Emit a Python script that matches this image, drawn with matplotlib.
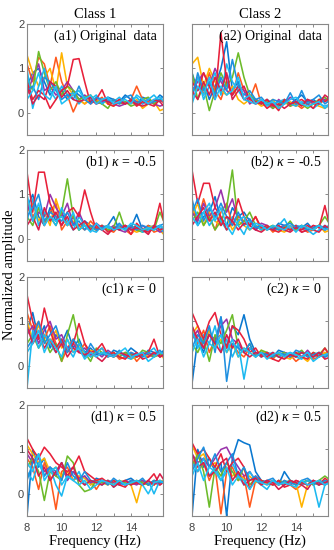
import numpy as np
import matplotlib.pyplot as plt

plt.rcParams['mathtext.fontset'] = 'custom'
plt.rcParams['mathtext.rm'] = 'Liberation Serif'
plt.rcParams['mathtext.it'] = 'Liberation Serif:italic'

# frequency axis (Hz), one point every 1/3 Hz
freq = [8.0, 8.33, 8.67, 9.0, 9.33, 9.67, 10.0, 10.33, 10.67, 11.0, 11.33, 11.67,
        12.0, 12.33, 12.67, 13.0, 13.33, 13.67, 14.0, 14.33, 14.67, 15.0, 15.33, 15.67, 16.0]

colors = ['#0A78D0', '#FF5A1E', '#FFB300', '#9933AA', '#6CBB2A',
          '#1CB8F0', '#E8203A', '#1E8FE0', '#D81E4A', '#20C0F5']

# class 1 / class 2 spectra
a1 = [
    [0.6, 0.9, 1.0, 0.7, 0.4, 0.6, 0.5, 0.3, 0.5, 0.4, 0.3, 0.25, 0.3, 0.2, 0.35, 0.3, 0.25, 0.4, 0.3, 0.2, 0.35, 0.3, 0.25, 0.4, 0.3],
    [1.1, 0.7, 1.25, 1.1, 0.6, 1.25, 0.7, 0.4, 0.02, 0.3, 0.2, 0.3, 0.25, 0.35, 0.2, 0.3, 0.25, 0.2, 0.3, 0.6, 0.3, 0.25, 0.2, 0.3, 0.2],
    [1.3, 0.9, 0.6, 0.8, 1.0, 0.5, 1.35, 0.6, 0.4, 0.3, 0.2, 0.35, 0.25, 0.3, 0.2, 0.15, 0.3, 0.25, 0.2, 0.3, 0.1, 0.2, 0.25, 0.05, 0.1],
    [0.4, 0.8, 1.1, 0.5, 0.6, 0.4, 0.5, 0.7, 0.5, 0.3, 0.4, 0.3, 0.2, 0.25, 0.3, 0.2, 0.15, 0.2, 0.3, 0.25, 0.2, 0.3, 0.2, 0.15, 0.2],
    [0.8, 0.5, 1.38, 0.9, 0.5, 0.7, 0.4, 0.6, 0.5, 0.3, 0.35, 0.4, 0.25, 0.2, 0.1, 0.3, 0.2, 0.25, 0.15, 0.2, 0.3, 0.35, 0.2, 0.3, 0.25],
    [1.0, 0.1, 0.6, 1.0, 0.5, 0.3, 0.6, 0.4, 0.45, 0.2, 0.35, 0.3, 0.4, 0.2, 0.3, 0.25, 0.35, 0.2, 0.3, 0.35, 0.2, 0.3, 0.4, 0.25, 0.3],
    [0.7, 0.3, 0.5, 0.4, 0.1, 0.3, 0.5, 0.6, 1.2, 1.22, 0.7, 0.2, 0.3, 0.52, 0.2, 0.15, 0.25, 0.2, 0.3, 0.15, 0.25, 0.2, 0.15, 0.3, 0.2],
    [0.5, 0.6, 0.3, 0.8, 0.7, 0.5, 0.3, 0.4, 0.3, 0.6, 0.3, 0.2, 0.35, 0.3, 0.25, 0.3, 0.2, 0.35, 0.4, 0.2, 0.3, 0.2, 0.25, 0.3, 0.4],
    [0.6, 0.2, 0.4, 0.3, 0.7, 0.6, 0.35, 0.5, 0.3, 0.25, 0.3, 0.35, 0.2, 0.3, 0.25, 0.2, 0.3, 0.2, 0.25, 0.2, 0.15, 0.2, 0.3, 0.25, 0.1],
    [0.3, 0.5, 0.9, 0.4, 0.3, 0.6, 0.2, 0.3, 0.4, 0.5, 0.3, 0.4, 0.2, 0.3, 0.35, 0.2, 0.25, 0.3, 0.2, 0.4, 0.3, 0.2, 0.3, 0.35, 0.2],
]
a2 = [
    [0.9, 0.5, 0.7, 0.3, 0.6, 1.0, 1.6, 0.5, 0.7, 0.3, 0.4, 0.25, 0.2, 0.3, 0.2, 0.15, 0.25, 0.2, 0.3, 0.4, 0.25, 0.3, 0.2, 0.3, 0.35],
    [0.6, 0.8, 0.4, 0.9, 0.5, 0.3, 0.7, 0.4, 0.9, 0.5, 0.3, 0.65, 0.2, 0.3, 0.1, 0.2, 0.25, 0.15, 0.2, 0.1, 0.2, 0.25, 0.2, 0.3, 0.2],
    [1.1, 1.25, 0.6, 1.0, 0.7, 0.5, 0.4, 0.6, 0.3, 0.2, 0.3, 0.25, 0.15, 0.2, 0.3, 0.1, 0.2, 0.25, 0.15, 0.2, 0.3, 0.2, 0.15, 0.1, 0.2],
    [0.5, 0.7, 0.9, 0.6, 1.0, 0.7, 0.5, 0.4, 0.6, 0.5, 0.2, 0.3, 0.25, 0.2, 0.1, 0.3, 0.2, 0.35, 0.25, 0.2, 0.3, 0.2, 0.25, 0.3, 0.35],
    [0.9, 0.3, 0.6, 0.05, 0.5, 0.9, 0.6, 0.8, 1.35, 0.8, 0.4, 0.3, 0.2, 0.25, 0.1, 0.2, 0.3, 0.15, 0.25, 0.2, 0.1, 0.2, 0.3, 0.35, 0.2],
    [0.4, 0.8, 0.3, 0.6, 0.9, 0.4, 1.1, 0.7, 0.5, 0.3, 0.25, 0.2, 0.3, 0.15, 0.2, 0.25, 0.3, 0.2, 0.15, 0.25, 0.2, 0.1, 0.2, 0.15, 0.2],
    [0.7, 0.5, 0.9, 0.6, 0.3, 1.8, 0.7, 0.4, 0.6, 0.3, 0.35, 0.2, 0.25, 0.1, 0.2, 0.05, 0.3, 0.2, 0.25, 0.3, 0.2, 0.1, 0.3, 0.25, 0.35],
    [0.3, 0.9, 0.5, 0.7, 0.4, 0.8, 0.5, 1.2, 0.6, 0.4, 0.5, 0.3, 0.35, 0.2, 0.3, 0.25, 0.2, 0.45, 0.2, 0.5, 0.2, 0.3, 0.4, 0.2, 0.3],
    [0.5, 0.3, 0.7, 0.4, 0.8, 0.5, 0.9, 0.3, 0.5, 0.6, 0.3, 0.25, 0.2, 0.3, 0.15, 0.2, 0.1, 0.2, 0.25, 0.15, 0.3, 0.25, 0.2, 0.4, 0.3],
    [0.2, 0.6, 0.4, 0.8, 0.3, 0.6, 0.4, 0.5, 0.8, 0.3, 0.4, 0.2, 0.3, 0.2, 0.25, 0.1, 0.2, 0.3, 0.35, 0.2, 0.15, 0.2, 0.25, 0.1, 0.2],
]
b1 = [
    [0.7, 1.0, 0.5, 0.3, 0.7, 0.4, 0.6, 0.3, 0.5, 0.2, 0.4, 0.3, 0.25, 0.2, 0.3, 0.5, 0.2, 0.3, 0.25, 0.55, 0.2, 0.3, 0.25, 0.3, 0.2],
    [0.9, 0.5, 0.7, 0.3, 0.6, 0.8, 0.2, 0.4, 0.5, 0.3, 0.2, 0.4, 0.25, 0.3, 0.2, 0.15, 0.3, 0.2, 0.1, 0.25, 0.2, 0.3, 0.15, 0.2, 0.3],
    [0.6, 0.8, 0.4, 0.6, 0.3, 0.9, 0.5, 0.3, 0.4, 0.2, 0.35, 0.3, 0.2, 0.25, 0.3, 0.2, 0.25, 0.3, 0.2, 0.15, 0.2, 0.25, 0.3, 0.2, 0.05],
    [0.8, 0.4, 0.6, 0.5, 1.0, 0.7, 0.5, 0.8, 0.3, 0.6, 0.3, 0.2, 0.35, 0.25, 0.2, 0.3, 0.2, 0.15, 0.25, 0.2, 0.3, 0.2, 0.25, 0.15, 0.2],
    [0.5, 0.3, 0.7, 0.4, 0.5, 0.3, 0.6, 1.35, 0.5, 0.2, 0.3, 0.25, 0.2, 0.3, 0.2, 0.25, 0.6, 0.2, 0.3, 0.2, 0.15, 0.25, 0.2, 0.6, 0.3],
    [0.4, 0.9, 0.3, 0.6, 0.5, 0.3, 0.7, 0.4, 0.2, 0.5, 0.3, 0.2, 0.15, 0.3, 0.25, 0.2, 0.3, 0.25, 0.2, 0.3, 0.15, 0.2, 0.3, 0.25, 0.1],
    [1.5, 0.6, 1.5, 1.5, 0.8, 0.5, 0.3, 0.6, 0.7, 0.5, 1.1, 0.6, 0.2, 0.3, 0.15, 0.2, 0.25, 0.3, 0.1, 0.35, 0.2, 0.15, 0.25, 0.8, 0.2],
    [0.5, 0.7, 1.0, 0.4, 0.6, 0.5, 0.4, 0.6, 0.3, 0.4, 0.2, 0.3, 0.2, 0.25, 0.3, 0.2, 0.35, 0.2, 0.3, 0.2, 0.3, 0.25, 0.2, 0.3, 0.35],
    [0.3, 0.5, 0.2, 0.7, 0.4, 0.6, 0.3, 0.5, 0.2, 0.3, 0.4, 0.2, 0.3, 0.2, 0.1, 0.25, 0.2, 0.3, 0.2, 0.25, 0.2, 0.1, 0.3, 0.2, 0.25],
    [1.0, 0.4, 0.8, 0.3, 0.5, 0.4, 0.5, 0.3, 0.6, 0.2, 0.3, 0.15, 0.35, 0.2, 0.3, 0.2, 0.25, 0.2, 0.35, 0.3, 0.2, 0.25, 0.2, 0.3, 0.2],
]
b2 = [
    [0.9, 0.3, 0.5, 0.6, 0.95, 0.4, 0.3, 0.7, 0.5, 0.6, 0.4, 0.2, 0.3, 0.25, 0.2, 0.35, 0.3, 0.2, 0.3, 0.25, 0.35, 0.2, 0.3, 0.25, 0.3],
    [0.7, 0.4, 0.9, 0.5, 0.2, 0.6, 0.8, 0.3, 0.5, 0.4, 0.3, 0.5, 0.2, 0.3, 0.15, 0.25, 0.2, 0.3, 0.2, 0.25, 0.15, 0.2, 0.3, 0.2, 0.25],
    [0.5, 0.8, 0.3, 0.6, 0.4, 0.3, 0.5, 0.2, 0.4, 0.3, 0.2, 0.3, 0.25, 0.2, 0.3, 0.2, 0.15, 0.25, 0.2, 0.3, 0.2, 0.25, 0.3, 0.15, 0.2],
    [0.6, 0.4, 0.8, 0.5, 0.7, 1.1, 0.6, 0.9, 0.4, 0.5, 0.3, 0.2, 0.35, 0.3, 0.2, 0.25, 0.3, 0.2, 0.25, 0.15, 0.2, 0.3, 0.25, 0.2, 0.3],
    [0.4, 0.6, 0.3, 0.5, 0.2, 0.4, 0.7, 1.55, 0.3, 0.4, 0.6, 0.3, 0.2, 0.25, 0.3, 0.2, 0.25, 0.4, 0.2, 0.3, 0.25, 0.2, 0.3, 0.5, 0.3],
    [0.8, 0.5, 0.6, 0.3, 0.5, 0.4, 0.2, 0.5, 0.3, 0.1, 0.4, 0.3, 0.2, 0.3, 0.2, 0.3, 0.45, 0.2, 0.3, 0.25, 0.2, 0.1, 0.2, 0.3, 0.2],
    [1.55, 0.8, 1.25, 1.25, 0.7, 0.5, 0.2, 0.4, 0.9, 0.5, 0.3, 0.5, 0.25, 0.3, 0.2, 0.15, 0.25, 0.2, 0.3, 0.15, 0.2, 0.3, 0.25, 0.75, 0.2],
    [0.6, 0.9, 0.4, 0.7, 0.5, 0.8, 0.5, 0.3, 0.6, 0.3, 0.45, 0.25, 0.3, 0.2, 0.25, 0.2, 0.3, 0.35, 0.25, 0.3, 0.2, 0.25, 0.3, 0.2, 0.35],
    [0.3, 0.5, 0.7, 0.4, 0.6, 0.3, 0.5, 0.4, 0.2, 0.35, 0.3, 0.2, 0.15, 0.25, 0.2, 0.3, 0.2, 0.15, 0.25, 0.2, 0.3, 0.2, 0.15, 0.3, 0.2],
    [0.5, 0.3, 0.6, 0.8, 0.4, 0.7, 0.3, 0.1, 0.4, 0.5, 0.2, 0.35, 0.3, 0.2, 0.3, 0.25, 0.2, 0.3, 0.15, 0.3, 0.25, 0.2, 0.3, 0.2, 0.25],
]
c1 = [
    [0.8, 1.2, 0.6, 0.9, 0.4, 0.7, 0.5, 0.8, 0.4, 0.6, 0.3, 0.4, 0.25, 0.3, 0.2, 0.35, 0.3, 0.25, 0.4, 0.3, 0.2, 0.35, 0.3, 0.25, 0.4],
    [1.2, 0.8, 1.0, 0.6, 0.9, 0.5, 0.1, 0.4, 0.6, 0.3, 0.5, 0.2, 0.3, 0.4, 0.2, 0.3, 0.15, 0.2, 0.3, 0.1, 0.25, 0.2, 0.3, 0.25, 0.2],
    [1.0, 0.6, 0.9, 0.7, 0.5, 0.8, 0.4, 0.6, 0.3, 0.5, 0.2, 0.35, 0.3, 0.25, 0.3, 0.2, 0.25, 0.3, 0.15, 0.2, 0.3, 0.2, 0.25, 0.3, 0.1],
    [0.7, 0.9, 0.5, 0.8, 1.0, 0.6, 0.7, 0.4, 0.5, 0.3, 0.4, 0.25, 0.3, 0.2, 0.35, 0.25, 0.2, 0.3, 0.25, 0.2, 0.3, 0.25, 0.2, 0.3, 0.25],
    [0.5, 0.7, 0.4, 0.6, 0.3, 0.5, 0.1, 0.7, 1.15, 0.5, 0.3, 0.1, 0.4, 0.3, 0.25, 0.3, 0.2, 0.3, 0.25, 0.2, 0.35, 0.3, 0.2, 0.25, 0.3],
    [-0.5, 0.8, 0.4, 0.7, 0.5, 0.3, 0.6, 0.4, 0.2, 0.5, 0.3, 0.2, 0.3, 0.4, 0.2, 0.25, 0.3, 0.2, 0.15, 0.25, 0.2, 0.3, 0.4, 0.2, 0.3],
    [1.6, 1.0, 0.6, 1.3, 0.8, 0.4, 0.6, 0.3, 0.5, 0.95, 0.5, 0.3, 0.35, 0.5, 0.25, 0.3, 0.2, 0.15, 0.3, 0.2, 0.25, 0.3, 0.6, 0.2, 0.25],
    [0.4, 0.6, 1.0, 0.5, 0.7, 0.9, 0.5, 0.3, 0.6, 0.4, 0.2, 0.5, 0.3, 0.25, 0.3, 0.2, 0.35, 0.2, 0.3, 0.25, 0.2, 0.3, 0.25, 0.35, 0.2],
    [0.9, 0.5, 0.7, 0.4, 0.6, 0.3, 0.5, 0.2, 0.4, 0.3, 0.25, 0.3, 0.2, 0.1, 0.25, 0.2, 0.3, 0.25, 0.2, 0.3, 0.15, 0.2, 0.3, 0.2, 0.3],
    [0.3, 0.5, 0.8, 0.3, 0.6, 0.4, 0.2, 0.6, 0.3, 0.4, 0.15, 0.3, 0.2, 0.3, 0.25, 0.2, 0.3, 0.4, 0.2, 0.25, 0.3, 0.1, 0.2, 0.3, 0.25],
]
c2 = [
    [-0.4, 0.6, 0.3, 0.8, 0.5, 1.1, 0.4, 0.9, 0.7, 1.15, 0.6, 0.3, 0.25, 0.3, 0.2, 0.35, 0.3, 0.25, 0.2, 0.3, 0.25, 0.2, 0.3, 0.25, 0.35],
    [0.9, 0.5, 0.8, 0.3, 0.6, 0.7, 0.4, 0.5, 0.3, 0.2, 0.4, 0.25, 0.3, 0.2, 0.15, 0.3, 0.2, 0.25, 0.1, 0.2, 0.3, 0.15, 0.2, 0.3, 0.2],
    [0.7, 0.9, 0.5, 0.8, 0.4, 0.6, 0.3, 0.5, 0.2, 0.4, 0.3, 0.2, 0.35, 0.25, 0.2, 0.3, 0.2, 0.15, 0.3, 0.2, 0.1, 0.25, 0.2, 0.3, 0.25],
    [0.6, 0.8, 0.4, 0.7, 0.6, 0.9, 1.05, 0.6, 0.5, 0.3, 0.4, 0.3, 0.2, 0.3, 0.25, 0.2, 0.3, 0.25, 0.3, 0.2, 0.35, 0.2, 0.25, 0.2, 0.3],
    [0.5, 0.3, 0.6, 0.1, 0.7, 0.5, 0.8, 1.15, 0.4, 0.3, 0.5, 0.2, 0.35, 0.3, 0.2, 0.25, 0.3, 0.2, 0.25, 0.35, 0.2, 0.3, 0.25, 0.4, 0.2],
    [0.8, 0.4, 0.7, 0.5, 0.9, 0.3, 0.6, 0.2, 0.5, -0.3, 0.4, 0.3, 0.2, 0.25, 0.3, 0.2, 0.25, 0.3, 0.2, 0.15, 0.3, 0.2, 0.25, 0.2, 0.3],
    [1.2, 0.9, 0.6, 1.0, 1.2, 0.7, 0.4, 0.9, 0.8, 0.6, 0.3, 0.4, 0.2, 0.3, 0.15, 0.1, 0.25, 0.2, 0.3, 0.2, 0.15, 0.3, 0.2, 0.4, 0.2],
    [0.4, 0.7, 0.5, 0.9, 0.3, 1.1, -0.35, 0.5, 0.4, 0.3, 0.5, 0.2, 0.3, 0.25, 0.2, 0.3, 0.25, 0.2, 0.35, 0.3, 0.2, 0.25, 0.3, 0.2, 0.25],
    [0.9, 0.6, 0.4, 0.7, 0.5, 0.3, 0.7, 0.4, 0.6, 0.3, 0.2, 0.3, 0.25, 0.2, 0.3, 0.2, 0.15, 0.25, 0.2, 0.3, 0.25, 0.2, 0.3, 0.15, 0.2],
    [0.3, 0.6, 0.2, 0.5, 0.4, 0.7, 0.3, 0.6, 0.2, 0.4, 0.3, 0.2, 0.3, 0.15, 0.25, 0.3, 0.2, 0.3, 0.25, 0.2, 0.3, 0.1, 0.2, 0.25, 0.3],
]
d1 = [
    [-0.5, 1.0, 0.6, 0.8, 0.3, 0.5, 0.7, 0.4, 0.5, 0.3, 0.4, 0.2, 0.35, 0.3, 0.25, 0.3, 0.2, 0.3, 0.35, 0.25, 0.3, 0.2, 0.3, 0.25, 0.3],
    [0.8, 0.6, 0.1, 0.7, 0.4, -0.35, 0.5, 0.6, 0.3, 0.4, 0.2, 0.3, 0.1, 0.3, 0.25, 0.2, 0.3, 0.2, 0.25, 0.3, 0.2, 0.25, 0.2, 0.3, 0.25],
    [1.1, 0.9, 0.7, 0.8, 0.5, 0.6, 0.4, 0.5, 0.3, 0.4, 0.35, 0.2, 0.3, 0.25, 0.2, 0.3, 0.25, 0.3, 0.2, -0.2, 0.3, 0.25, 0.2, 0.3, 0.25],
    [0.9, 0.7, 0.8, 0.5, 0.6, 0.4, 0.7, 0.3, 0.5, 0.35, 0.4, 0.25, 0.3, 0.2, 0.3, 0.25, 0.2, 0.3, 0.25, 0.2, 0.3, 0.2, 0.25, 0.2, 0.3],
    [0.6, 0.8, 0.5, -0.15, 0.5, 0.4, 0.3, 0.85, 0.7, 0.2, 0.05, 0.1, 0.3, 0.25, 0.3, 0.2, 0.3, 0.25, 0.2, 0.3, 0.25, 0.2, 0.3, 0.25, 0.3],
    [0.5, 0.3, 0.7, 0.4, 0.6, 0.2, -0.05, 0.4, 0.3, 0.5, 0.2, 0.3, 0.25, 0.2, 0.3, 0.15, 0.25, 0.2, 0.3, 0.25, 0.2, 0.3, 0.0, 0.3, 0.2],
    [1.25, 1.0, 0.8, 1.05, 0.9, 0.7, 0.6, 0.5, 0.6, 0.85, 0.5, 0.4, 0.3, 0.35, 0.25, 0.3, 0.2, 0.15, 0.3, 0.25, 0.2, 0.3, 0.45, 0.2, 0.3],
    [0.3, 0.7, 0.9, 0.4, 0.6, 0.5, 0.3, 0.7, 0.4, 0.3, 0.5, 0.3, 0.25, 0.3, 0.2, 0.35, 0.25, 0.2, 0.3, 0.25, 0.35, 0.2, 0.3, 0.25, 0.3],
    [1.0, 0.8, 0.4, 0.6, 0.3, 0.5, 0.7, 0.4, 0.6, 0.3, 0.2, 0.3, 0.25, 0.2, 0.3, 0.15, 0.25, 0.3, 0.2, 0.25, 0.2, 0.3, 0.2, 0.45, 0.25],
    [0.7, 0.5, 0.9, 0.3, 0.5, 0.6, 0.2, 0.4, 0.3, 0.2, 0.3, 0.1, 0.2, 0.3, 0.25, 0.2, 0.3, 0.2, 0.25, 0.3, 0.2, 0.0, 0.25, 0.3, 0.2],
]
d2 = [
    [-0.5, 1.0, 0.6, 0.8, 0.5, 0.7, -0.5, 0.8, 1.22, 1.15, 1.1, 0.5, 0.3, 0.25, 0.3, 0.2, 0.5, 0.3, 0.2, 0.25, 0.3, 0.2, 0.3, 0.25, 0.3],
    [0.8, 0.5, 0.7, 0.3, 0.6, -0.45, 0.5, 0.6, 0.3, 0.4, -0.3, 0.3, 0.2, 0.3, 0.25, 0.2, 0.3, 0.2, 0.1, 0.2, 0.3, 0.25, 0.2, 0.3, 0.25],
    [1.1, 0.8, 0.9, 0.6, 0.7, 0.5, 0.6, 0.4, 0.5, 0.3, 0.4, 0.25, 0.3, 0.2, 0.3, 0.25, 0.2, 0.3, 0.25, -0.3, 0.2, 0.3, 0.25, 0.2, 0.3],
    [0.9, 0.7, 0.8, 0.6, 0.8, 1.0, 1.05, 0.8, 0.6, 0.4, 0.5, 0.3, 0.25, 0.3, 0.2, 0.3, 0.25, 0.2, 0.3, 0.25, 0.2, 0.3, 0.25, 0.2, 0.3],
    [0.6, 0.9, 0.5, -0.3, 0.6, 0.4, 0.7, 0.5, 0.3, 0.6, 0.2, 0.35, 0.3, 0.25, 0.2, 0.3, 0.25, 0.3, 0.2, 0.25, 0.3, 0.2, 0.3, 0.4, 0.3],
    [0.7, 0.5, 0.8, 0.4, 0.6, 0.3, 0.5, 0.7, 0.4, 0.2, 0.5, 0.3, 0.2, 0.1, 0.3, 0.25, 0.2, 0.3, 0.25, 0.2, 0.3, 0.25, -0.3, 0.2, 0.3],
    [1.15, 0.9, 1.0, 0.8, 0.6, 0.9, 0.5, 0.7, 0.8, 0.6, 0.1, 0.4, 0.3, 0.25, 0.2, 0.3, 0.15, 0.2, 0.3, 0.25, 0.2, 0.3, 0.2, 0.35, 0.25],
    [0.5, 0.8, 1.05, 0.6, 0.9, 0.5, 0.7, 0.9, 0.4, 0.6, 0.3, 0.4, 0.25, 0.3, 0.35, 0.2, 0.3, 0.25, 0.2, 0.3, 0.35, 0.25, 0.2, 0.3, 0.25],
    [0.9, 0.6, 0.7, 0.4, 0.5, 0.7, 0.8, 0.3, 0.5, 0.2, 0.3, 0.35, 0.2, 0.3, 0.25, 0.1, 0.2, 0.3, 0.25, 0.2, 0.1, 0.3, 0.2, 0.25, 0.3],
    [0.4, 0.7, 0.3, 0.6, 0.5, 0.3, 0.6, 0.2, 0.4, 0.3, 0.1, 0.3, 0.25, 0.2, 0.3, 0.2, 0.25, 0.2, 0.15, 0.3, 0.2, 0.25, 0.3, 0.2, 0.25],
]

panels = [[a1, a2], [b1, b2], [c1, c2], [d1, d2]]
labels = [['(a1) Original  data', '(a2) Original  data'],
          [r'(b1) $\kappa$ = -0.5', r'(b2) $\kappa$ = -0.5'],
          [r'(c1) $\kappa$ = 0', r'(c2) $\kappa$ = 0'],
          [r'(d1) $\kappa$ = 0.5', r'(d2) $\kappa$ = 0.5']]
col_titles = ['Class 1', 'Class 2']

serif = 'Liberation Serif'
W, H = 334, 550
fig = plt.figure(figsize=(W / 100, H / 100), dpi=100)

row_tops = [24, 150, 277, 405]
col_lefts = [27, 192]
ax_w, ax_h = 136, 111

for r in range(4):
    for c in range(2):
        ax = fig.add_axes([col_lefts[c] / W, 1 - (row_tops[r] + ax_h) / H, ax_w / W, ax_h / H])
        for i, y in enumerate(panels[r][c]):
            ax.plot(freq, y, color=colors[i % len(colors)], lw=1.15)
        ax.set_xlim(8, 15.85)
        ax.set_ylim(-0.5, 2)
        ax.set_xticks(np.arange(8, 16, 1))
        ax.set_xticklabels(['8', '', '10', '', '12', '', '14', ''] if r == 3 else [])
        ax.set_yticks([0, 1, 2])
        ax.set_yticklabels(['0', '1', '2'] if c == 0 else [])
        ax.tick_params(direction='in', length=2.5, width=0.6, top=True, right=True,
                       colors='#777777', labelcolor='#444444', labelsize=8, pad=2)
        ax.tick_params(axis='x', pad=5)
        for lab in ax.get_xticklabels() + ax.get_yticklabels():
            lab.set_family('Liberation Sans')
        for s in ax.spines.values():
            s.set_color('#888888')
            s.set_linewidth(0.8)
        ax.text(0.955, 0.89, labels[r][c], transform=ax.transAxes, ha='right', va='center',
                family=serif, fontsize=10)
        if r == 0:
            ax.set_title(col_titles[c], family=serif, fontsize=10.5, pad=4)
        if r == 3:
            ax.set_xlabel('Frequency (Hz)', family=serif, fontsize=10.5, labelpad=1)

fig.text(10 / W, 1 - 275 / H, 'Normalized amplitude', rotation=90, ha='center', va='center',
         family=serif, fontsize=10.5)

fig.savefig('out.png', dpi=100)
